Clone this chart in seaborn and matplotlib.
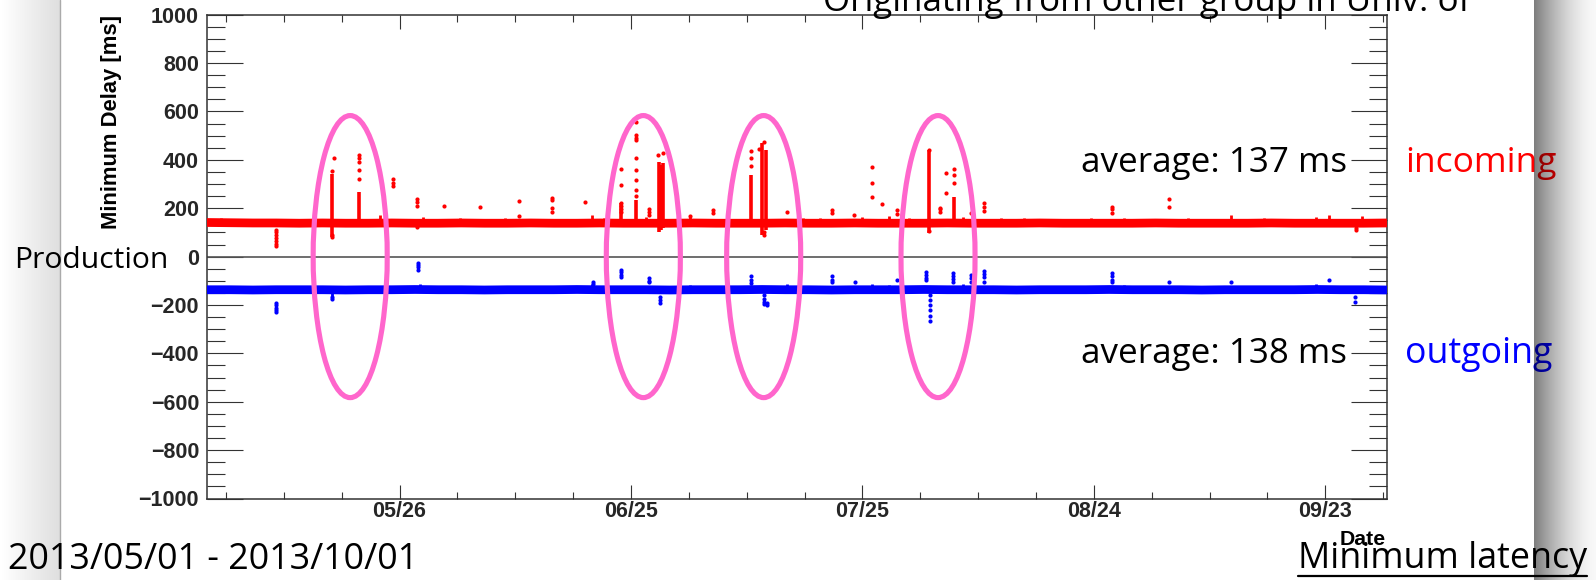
import matplotlib
matplotlib.use("Agg")
import matplotlib.pyplot as plt
import matplotlib.dates as mdates
from matplotlib.patches import Ellipse
from matplotlib.ticker import FixedLocator, MultipleLocator
import numpy as np
import pandas as pd
import seaborn as sns

sns.set_style("white")
plt.rcParams["font.family"] = ["Liberation Sans", "DejaVu Sans"]

# ---------------- data (x = days after 2013-05-01 00:00) ----------------
START = pd.Timestamp("2013-05-01")
END = pd.Timestamp("2013-10-01")

base_days = list(range(0, 154, 3))
red_base = [141, 140, 139, 139, 138, 139, 138, 138, 139, 138,
            138, 139, 138, 138, 139, 138, 138, 139, 138, 138,
            138, 139, 138, 138, 138, 139, 138, 138, 139, 138,
            138, 138, 139, 138, 138, 138, 139, 138, 138, 138,
            138, 139, 138, 138, 138, 138, 139, 138, 138, 138,
            138, 139]
blue_base = [-137, -137, -138, -137, -137, -137, -138, -137, -137, -136,
             -137, -137, -138, -137, -137, -137, -136, -137, -137, -137,
             -138, -137, -137, -137, -136, -137, -137, -138, -137, -137,
             -137, -136, -137, -137, -137, -138, -137, -137, -137, -136,
             -137, -137, -137, -138, -137, -137, -137, -137, -136, -137,
             -137, -138]

red_spike_days = [9.0, 16.5, 16.2, 19.75, 24.2, 27.3, 30.8, 35.4, 40.5, 44.7,
                  49.0, 53.7, 55.6, 57.3, 58.5, 59.2, 62.6, 65.6, 70.6, 71.6,
                  72.3, 75.2, 81.1, 83.9, 86.3, 87.5, 89.5, 93.6, 95.0, 95.8,
                  96.9, 99.1, 100.7, 117.3, 124.7, 149.0]
red_spike_vals = [
    [112, 100, 88, 76, 64, 52, 42], [408], [355, 90, 82],
    [420, 408, 392, 360, 320], [322, 305, 290], [240, 225, 210, 122], [210],
    [206], [228, 168], [243, 235, 200, 186], [227],
    [363, 297, 223, 210, 198, 185],
    [557, 503, 492, 482, 408, 360, 318, 276, 250],
    [195, 185, 172], [420], [430], [169], [194, 180], [437, 408, 375], [445],
    [474, 100, 91], [186], [194, 180], [173], [371, 305, 247], [219],
    [194, 175], [441, 105], [202, 195, 186], [346, 264], [363, 338, 305],
    [181], [223, 205, 190], [206, 195, 180], [239, 206], [111, 120],
]
red_streak_days = [16.2, 19.75, 53.7, 55.6, 58.6, 58.9, 59.2, 70.6, 72.0, 72.5, 93.6, 96.9]
red_streak_low = [80, 150, 140, 140, 100, 110, 120, 153, 91, 110, 99, 150]
red_streak_high = [340, 265, 223, 235, 392, 380, 385, 338, 470, 440, 441, 247]

red_blip_days = [1.8, 6.5, 12.0, 22.4, 28.0, 32.8, 38.7, 46.0, 49.9, 51.5, 57.0,
                 62.6, 67.5, 77.3, 79.5, 85.0, 88.5, 91.0, 98.0, 103.0, 106.0,
                 110.4, 114.6, 118.9, 121.5, 127.2, 132.8, 137.0, 143.8, 145.5, 149.8]
red_blip_tips = [158, 152, 155, 170, 162, 160, 158, 156, 173, 158, 165,
                 169, 160, 158, 160, 162, 168, 158, 165, 160, 158,
                 156, 160, 161, 156, 161, 173, 158, 165, 173, 169]

blue_spike_days = [9.0, 16.2, 27.4, 50.1, 53.7, 57.3, 58.8, 70.6, 72.3, 72.6,
                   81.1, 84.0, 89.5, 93.2, 93.8, 96.7, 99.1, 100.7, 117.3, 124.7,
                   132.8, 145.5, 148.8]
blue_spike_vals = [
    [-190, -200, -212, -222, -231], [-165, -177], [-25, -35, -45, -54],
    [-107, -115], [-55, -65, -75, -85], [-90, -100, -107], [-165, -178, -190],
    [-82, -95, -110, -124], [-160, -175, -188, -198], [-190, -200],
    [-82, -95, -107], [-103], [-95], [-62, -75, -88, -95],
    [-160, -180, -200, -220, -245, -268], [-66, -80, -92, -103],
    [-74, -88, -103], [-58, -70, -85, -103], [-66, -80, -95, -107], [-107],
    [-103], [-95], [-165, -186],
]
blue_blip_days = [1.8, 6.5, 12.0, 16.2, 22.4, 27.6, 32.8, 38.7, 46.0, 50.0, 57.0,
                  62.6, 67.5, 75.2, 77.3, 79.5, 86.3, 88.5, 91.0, 98.0, 103.0,
                  106.0, 110.4, 114.6, 118.9, 121.5, 127.2, 137.0, 143.8, 149.8]
blue_blip_tips = [-122, -125, -125, -170, -120, -115, -122, -125, -122, -112, -120,
                  -118, -122, -115, -120, -125, -115, -118, -120, -115, -122,
                  -125, -120, -122, -118, -125, -120, -125, -115, -120]

# highlighted periods (ellipse centres, days after start)
ellipse_days = [18.6, 56.6, 72.2, 94.8]

major_days = [25, 55, 85, 115, 145]
minor_step_days = 7.5
minor_first_day = 2.5

# ---------------- helpers ----------------
def to_date(d):
    return START + pd.to_timedelta(np.asarray(d, dtype=float), unit="D")

def expand(days, vals):
    xs, ys = [], []
    for d, vs in zip(days, vals):
        for v in vs:
            xs.append(d)
            ys.append(v)
    return pd.DataFrame({"date": to_date(xs), "value": ys})

W, H = 1596, 580
fig = plt.figure(figsize=(W / 100, H / 100), dpi=100)
renderer = fig.canvas.get_renderer()

ax_left, ax_right, ax_top, ax_bottom = 206.7, 1387.0, 14.7, 498.5
ax = fig.add_axes([ax_left / W, (H - ax_bottom) / H,
                   (ax_right - ax_left) / W, (ax_bottom - ax_top) / H])
ax.set_facecolor("white")

RED, BLUE, PINK = "#ff0000", "#0000ff", "#ff66cc"
band_lw = 6.3

# baselines
sns.lineplot(x=to_date(base_days), y=red_base, ax=ax, color=RED, lw=band_lw,
             solid_capstyle="butt", zorder=3)
sns.lineplot(x=to_date(base_days), y=blue_base, ax=ax, color=BLUE, lw=band_lw,
             solid_capstyle="butt", zorder=3)

# small blips
red_base_interp = np.interp(red_blip_days, base_days, red_base)
blue_base_interp = np.interp(blue_blip_days, base_days, blue_base)
ax.vlines(to_date(red_blip_days), red_base_interp, red_blip_tips, color=RED, lw=2.0, zorder=3)
ax.vlines(to_date(blue_blip_days), blue_base_interp, blue_blip_tips, color=BLUE, lw=2.0, zorder=3)

# dense streaks
ax.vlines(to_date(red_streak_days), red_streak_low, red_streak_high, color=RED, lw=2.6, zorder=3)

# spike points
sns.scatterplot(data=expand(red_spike_days, red_spike_vals), x="date", y="value",
                ax=ax, color=RED, s=9, linewidth=0, zorder=4)
sns.scatterplot(data=expand(blue_spike_days, blue_spike_vals), x="date", y="value",
                ax=ax, color=BLUE, s=9, linewidth=0, zorder=4)

ax.axhline(0, color="#555555", lw=1.2, zorder=2)

# ellipses
for d in ellipse_days:
    c = mdates.date2num(START + pd.Timedelta(days=d))
    ax.add_patch(Ellipse((c, 0), width=9.6, height=1166, fill=False,
                         edgecolor=PINK, lw=3.7, zorder=6))

# axes
ax.set_xlim(START, END)
ax.set_ylim(-1000, 1000)
ax.set_xlabel("")
ax.set_ylabel("")
maj = [mdates.date2num(START + pd.Timedelta(days=d)) for d in major_days]
mins = [mdates.date2num(START + pd.Timedelta(days=minor_first_day + k * minor_step_days))
        for k in range(0, 21)]
ax.xaxis.set_major_locator(FixedLocator(maj))
ax.xaxis.set_minor_locator(FixedLocator(mins))
ax.xaxis.set_major_formatter(mdates.DateFormatter("%m/%d"))
ax.yaxis.set_major_locator(MultipleLocator(200))
ax.yaxis.set_minor_locator(MultipleLocator(50))
for s in ax.spines.values():
    s.set_color("#333333")
    s.set_linewidth(1.1)
    s.set_visible(True)
tick_font = dict(family="Liberation Sans", weight="bold", size=15.5)
ax.tick_params(axis="x", which="major", direction="in", length=10, width=0.8,
               top=True, bottom=True, pad=2, color="#333333")
ax.tick_params(axis="x", which="minor", direction="in", length=5, width=0.8,
               top=True, bottom=True, color="#333333")
ax.tick_params(axis="y", which="major", direction="in", length=26, width=0.8,
               left=True, right=True, pad=5.5, color="#333333")
ax.tick_params(axis="y", which="minor", direction="in", length=13, width=0.8,
               left=True, right=True, color="#333333")
for lab in ax.get_xticklabels() + ax.get_yticklabels():
    lab.set_fontproperties(matplotlib.font_manager.FontProperties(**tick_font))

# ---------------- text ----------------
SLIDE = "Open Sans"

def place(s, x, y, width, ha="left", va="baseline", family=SLIDE, weight="normal",
          color="black", rotation=0, zorder=3, size=None):
    t = fig.text(x / W, 1 - y / H, s, ha=ha, va=va, family=family, weight=weight,
                 color=color, fontsize=20, rotation=rotation, zorder=zorder)
    if size is None:
        bb = t.get_window_extent(renderer)
        cur = bb.height if rotation else bb.width
        t.set_fontsize(20 * width / cur)
    else:
        t.set_fontsize(size)
    return t

place("Minimum Delay [ms]", 112, ax_top, 213, ha="center", va="top",
      family="Liberation Sans", weight="bold", rotation=90)
avg = place("average: 137 ms", 1347, 172, 265, ha="right")
place("average: 138 ms", 1347, 363, 265, ha="right")
place("incoming", 1405, 172, 151, color=RED)
place("outgoing", 1405, 363, 147, color=BLUE)
place("Production", 14, 268, 154)
place("2013/05/01 - 2013/10/01", 8, 569, 410)
place("Minimum latency", 1298, 568, 289)
place("Date", 1386, 545, 46, ha="right", family="Liberation Sans", weight="bold")
place("Originating from other group in Univ. of", 823, 11, None,
      size=avg.get_fontsize())

# overlays (slide shadows)
back = fig.add_axes([0, 0, 1, 1], zorder=-1)
back.set_xlim(0, W); back.set_ylim(H, 0); back.axis("off")
grad_l = np.zeros((1, 64, 4))
grad_l[0, :, 3] = np.linspace(0.0, 0.13, 64)
back.imshow(grad_l, extent=(0, 60, H, 0), aspect="auto", interpolation="bilinear")
back.plot([60, 60], [0, H], color="#aaaaaa", lw=1)
back.set_xlim(0, W); back.set_ylim(H, 0)

front = fig.add_axes([0, 0, 1, 1], zorder=10)
front.set_xlim(0, W); front.set_ylim(H, 0); front.axis("off")
front.patch.set_visible(False)
t = np.linspace(0, 1, 64)
grad_r = np.zeros((1, 64, 4))
grad_r[0, :, 3] = 0.48 * (1 - t) ** 1.6 + 0.03
front.imshow(grad_r, extent=(1534, W, H, 0), aspect="auto", interpolation="bilinear")
front.plot([1298, 1587], [576, 576], color="black", lw=1.6)
front.set_xlim(0, W); front.set_ylim(H, 0)

fig.savefig("out.png", dpi=100)
